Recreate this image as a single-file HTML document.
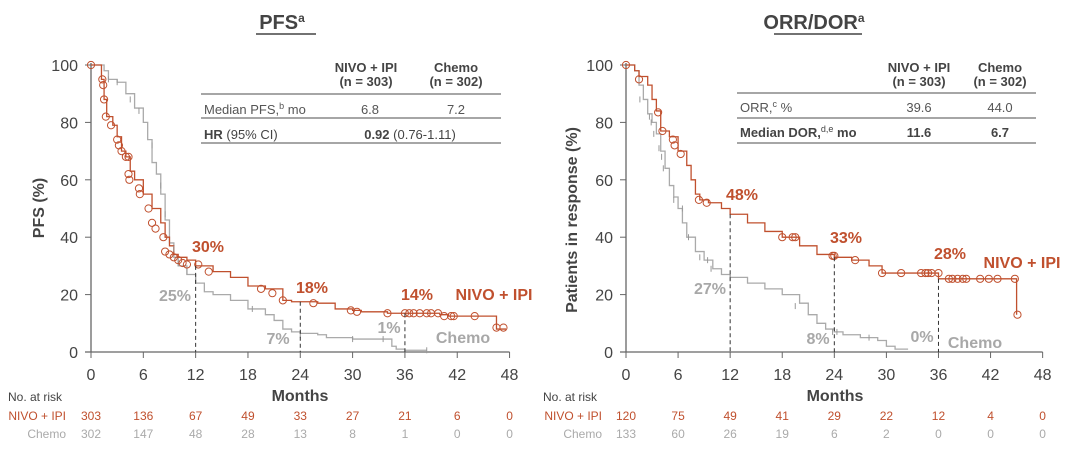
<!DOCTYPE html>
<html><head><meta charset="utf-8"><style>
html,body{margin:0;padding:0;background:#fff}
svg{display:block;font-family:"Liberation Sans",sans-serif}
</style></head><body>
<svg id="s" width="1080" height="457" viewBox="0 0 1080 457" xmlns="http://www.w3.org/2000/svg">
<g font-size="20" font-weight="bold" fill="#444" text-anchor="middle">
<text x="282" y="29">PFS<tspan font-size="12" dy="-7">a</tspan></text>
<text x="814" y="29">ORR/DOR<tspan font-size="12" dy="-7">a</tspan></text>
</g>
<line x1="256" y1="34" x2="316" y2="34" stroke="#444" stroke-width="1.5"/>
<line x1="774" y1="34" x2="862" y2="34" stroke="#444" stroke-width="1.5"/>
<!-- left table -->
<g font-size="13" fill="#444">
<g font-weight="bold" text-anchor="middle"><text x="366" y="72">NIVO + IPI</text><text x="366" y="86">(n = 303)</text><text x="456" y="72">Chemo</text><text x="456" y="86">(n = 302)</text></g>
<text x="204" y="114" fill="#555">Median PFS,<tspan font-size="9" dy="-5">b</tspan><tspan dy="5"> mo</tspan></text>
<text x="370" y="114" text-anchor="middle" fill="#555">6.8</text><text x="456" y="114" text-anchor="middle" fill="#555">7.2</text>
<text x="204" y="139"><tspan font-weight="bold">HR</tspan> (95% CI)</text>
<text x="410" y="139" text-anchor="middle"><tspan font-weight="bold">0.92</tspan> (0.76-1.11)</text>
</g>
<g stroke="#888" stroke-width="1.5"><line x1="201" y1="94" x2="501" y2="94"/><line x1="201" y1="118" x2="501" y2="118"/><line x1="201" y1="143" x2="501" y2="143"/></g>
<!-- right table -->
<g font-size="13" fill="#444">
<g font-weight="bold" text-anchor="middle"><text x="919" y="72">NIVO + IPI</text><text x="919" y="86">(n = 303)</text><text x="1000" y="72">Chemo</text><text x="1000" y="86">(n = 302)</text></g>
<text x="740" y="112" fill="#555">ORR,<tspan font-size="9" dy="-5">c</tspan><tspan dy="5"> %</tspan></text>
<text x="919" y="112" text-anchor="middle" fill="#555">39.6</text><text x="1000" y="112" text-anchor="middle" fill="#555">44.0</text>
<text x="740" y="137" font-weight="bold">Median DOR,<tspan font-size="9" dy="-5" font-weight="normal">d,e</tspan><tspan dy="5"> mo</tspan></text>
<text x="919" y="137" text-anchor="middle" font-weight="bold">11.6</text><text x="1000" y="137" text-anchor="middle" font-weight="bold">6.7</text>
</g>
<g stroke="#888" stroke-width="1.5"><line x1="737" y1="93" x2="1036" y2="93"/><line x1="737" y1="118" x2="1036" y2="118"/><line x1="737" y1="143" x2="1036" y2="143"/></g>
<g id="plots"></g>
<!-- annotations -->
<g font-size="16" font-weight="bold" text-anchor="middle">
<g fill="#c0502e"><text x="208" y="252">30%</text><text x="312" y="293">18%</text><text x="417" y="300">14%</text><text x="494" y="300">NIVO + IPI</text>
<text x="742" y="200">48%</text><text x="846" y="243">33%</text><text x="950" y="259">28%</text><text x="1022" y="268">NIVO + IPI</text></g>
<g fill="#a8a8a8"><text x="175" y="301">25%</text><text x="278" y="344">7%</text><text x="389" y="333">1%</text><text x="463" y="343">Chemo</text>
<text x="710" y="294">27%</text><text x="818" y="344">8%</text><text x="922" y="342">0%</text><text x="975" y="348">Chemo</text></g>
</g>
<g font-size="16" font-weight="bold" fill="#444" text-anchor="middle">
<text x="300" y="401">Months</text><text x="835" y="401">Months</text>
<text transform="translate(44,208) rotate(-90)">PFS (%)</text>
<text transform="translate(577,220) rotate(-90)">Patients in response (%)</text>
</g>
<g font-size="12" fill="#444"><text x="8" y="401">No. at risk</text><text x="543" y="401">No. at risk</text></g>
<g font-size="12" text-anchor="end"><text x="66" y="420" fill="#c0502e">NIVO + IPI</text><text x="66" y="438" fill="#aaa">Chemo</text>
<text x="602" y="420" fill="#c0502e">NIVO + IPI</text><text x="602" y="438" fill="#aaa">Chemo</text></g>
</svg>
<script>
var NS="http://www.w3.org/2000/svg",g=document.getElementById('plots');
function el(t,a,tx){var e=document.createElementNS(NS,t);for(var k in a)e.setAttribute(k,a[k]);if(tx!==undefined)e.textContent=tx;g.appendChild(e);return e;}
function plot(x0,sc,red,grey,rc,gc,risk,dash){
 var X=function(m){return x0+sc*m},Y=function(p){return 352-2.87*p};
 el('line',{x1:x0,y1:Y(100)-2,x2:x0,y2:352,stroke:'#666','stroke-width':1.3});
 el('line',{x1:x0-6,y1:352,x2:X(48),y2:352,stroke:'#666','stroke-width':1.3});
 for(var v=0;v<=100;v+=20){el('line',{x1:x0-6,y1:Y(v),x2:x0,y2:Y(v),stroke:'#666'});el('text',{x:x0-13,y:Y(v)+6,'font-size':16,fill:'#444','text-anchor':'end'},v);}
 for(var m=0;m<=48;m+=6){el('line',{x1:X(m),y1:352,x2:X(m),y2:358,stroke:'#666'});el('text',{x:X(m),y:380,'font-size':16,fill:'#444','text-anchor':'middle'},m);
  el('text',{x:X(m),y:420,'font-size':12,fill:'#c0502e','text-anchor':'middle'},risk[0][m/6]);
  el('text',{x:X(m),y:438,'font-size':12,fill:'#aaa','text-anchor':'middle'},risk[1][m/6]);}
 function step(d,col,end){var s='M'+X(0)+' '+Y(100),p=100;for(var i=0;i<d.length;i+=2){s+='H'+X(d[i])+'V'+Y(d[i+1]);p=d[i+1];}s+='H'+X(end);el('path',{d:s,fill:'none',stroke:col,'stroke-width':1.3});}
 step(grey[0],'#aaa',grey[1]);step(red[0],'#c0502e',red[1]);
 gc.forEach(function(c){el('line',{x1:X(c[0]),y1:Y(c[1])-3,x2:X(c[0]),y2:Y(c[1])+3,stroke:'#999'});});
 rc.forEach(function(c){el('circle',{cx:X(c[0]),cy:Y(c[1]),r:3.6,fill:'none',stroke:'#c0502e','stroke-width':1});});
 dash.forEach(function(d){el('line',{x1:X(d[0]),y1:Y(d[1]),x2:X(d[0]),y2:352,stroke:'#333','stroke-dasharray':'4,3'});});
}
plot(91,8.72,
 [[1.2,95,1.5,88,1.8,82,2.5,79,3,75,3.5,70,4,68,4.5,63,5,60,6,55,7,50,8,45,8.5,40,9,37,9.5,34,10,33,11,32,12,30,14,28,16,26,18,23,20,22,22,18,23,17.5,26,17,28,15,30,14.5,31,14,34,13.5,40,13,41,12.5,46.5,8],47.6],
 [[1.5,98,2,95,3,94,4,90,5,85,6,80,6.5,74,7,66,7.5,62,8,55,8.5,46,9,38,9.5,33,10,30,11,27,12,24,13,21,14,20,16,18,18,15,20,13,21,11,22,8,23,7,24,6.5,26,6,27,5,30,4.5,34,4.5,34.5,2,35,1,36,0.6],38.5],
 [[0,100],[1.3,95],[1.4,93],[1.5,88],[1.7,82],[2.3,79],[3,74],[3.2,72],[3.5,70],[4,68],[4.3,68],[4.3,62],[4.4,60],[5.5,57],[5.6,55],[6.6,50],[7,45],[7.4,43],[8.3,40],[8.5,35],[9,34],[9.5,33],[10,32],[10.5,31],[11,30.5],[12.3,30.5],[13.5,28],[19.5,22],[20.8,20.5],[22,18],[25.5,17],[29.8,14.5],[30.5,14],[34,13.5],[36,13.5],[36.5,13.5],[37,13.5],[37.7,13.5],[38.5,13.5],[39,13.5],[39.8,13.5],[40.5,12.5],[41.3,12.5],[41.6,12.5],[44,12.5],[46.5,8.5],[47.3,8.5]],
 [[2,95],[3,94],[4.5,88],[5.5,84],[7,72],[8,58],[8.5,48],[9.5,36],[10,31],[11,28],[12,25],[18.5,15],[24,6],[30,4.5],[33.5,4.5],[38.5,0.6]],
 [[303,136,67,49,33,27,21,6,0],[302,147,48,28,13,8,1,0,0]],
 [[12,30],[24,17.5],[36,13.5]]);
plot(626,8.68,
 [[1,98,1.5,96,2.5,93,3,88,3.5,84,4,77,5,75,6,70,7,65,7.5,60,8,55,8.5,53,9.5,52,11,50,12,48,14,45,16,42,18,40,20,37,22,34,24,33,26,32,28,30,29.5,27.5,36,25.5,45,13],45],
 [[1,98,1.5,93,2,88,2.5,83,3,80,3.5,76,4,70,4.5,64,5,58,5.5,54,6,50,6.5,45,7,40,8,35,9,32,10,29,11,27,12,26,14,24,16,22,18,20,20,17,21,13,22,10,23,8,24,7,25,6,27,5,29,4,30,2,31,1],32.5],
 [[0,100],[1.5,95],[3.7,83.5],[4.2,77],[5.4,74],[5.6,72],[6.3,69],[8.4,53],[9.3,52],[18,40],[19.2,40],[19.5,40],[23.8,33.5],[24,33.5],[26.4,32],[29.5,27.5],[31.7,27.5],[34,27.5],[34.5,27.5],[34.8,27.5],[35.2,27.5],[36,27.5],[37.2,25.5],[37.6,25.5],[38.2,25.5],[38.8,25.5],[39.2,25.5],[40.8,25.5],[41.8,25.5],[42.8,25.5],[44.8,25.5],[45.1,13]],
 [[1.6,88],[2.7,82],[2.9,80],[3.2,76],[3.8,71],[4.1,68],[4.3,64],[5.5,53],[6.5,50],[7.2,40],[8.5,33],[9.4,32],[9.8,29],[12,26],[19.5,16],[23.8,7],[24.3,7],[28,5]],
 [[120,75,49,41,29,22,12,4,0],[133,60,26,19,6,2,0,0,0]],
 [[12,48],[24,33],[36,25.5]]);
</script>
</body></html>
